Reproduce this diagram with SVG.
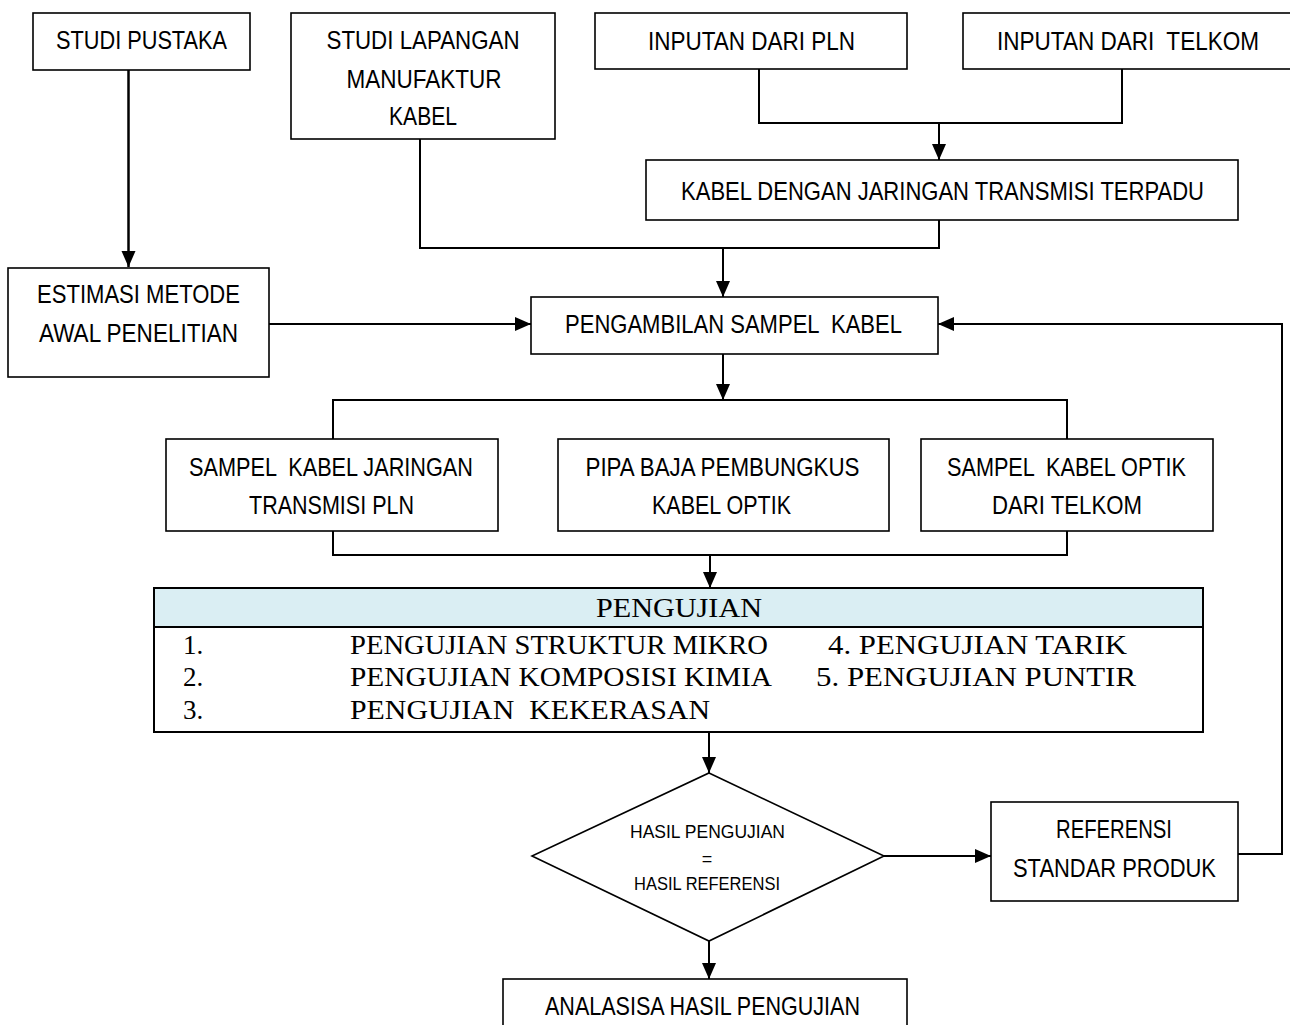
<svg xmlns="http://www.w3.org/2000/svg" width="1290" height="1025" viewBox="0 0 1290 1025">
<style>
.box{fill:#fff;stroke:#000;stroke-width:1.6}
.t{font-family:"Liberation Sans",Arial,sans-serif;font-size:25px;fill:#000;text-anchor:middle}
.ts{font-family:"Liberation Sans",Arial,sans-serif;font-size:18px;fill:#000;text-anchor:middle}
.tr{font-family:"Liberation Serif","Times New Roman",serif;font-size:27px;fill:#000}
.c{fill:none;stroke:#000;stroke-width:2}
.a{fill:none;stroke:#000;stroke-width:2;marker-end:url(#ah)}
</style>
<defs>
<marker id="ah" markerUnits="userSpaceOnUse" markerWidth="16" markerHeight="16" viewBox="0 0 16 16" refX="16" refY="8" orient="auto">
<path d="M0,1 L16,8 L0,15 Z" fill="#000"/>
</marker>
</defs>
<rect width="1290" height="1025" fill="#fff"/>
<g id="connectors">
<path class="a" d="M128.5,70 V267" style="stroke-width:2.5"/>
<path class="c" d="M420,139 V248 H939 V220"/>
<path class="a" d="M723,248 V297"/>
<path class="c" d="M759,69 V123 H1122 V69"/>
<path class="a" d="M939,123 V160"/>
<path class="a" d="M269,324 H531"/>
<path class="a" d="M723,354 V400"/>
<path class="c" d="M333,439 V400 H1067 V439"/>
<path class="c" d="M333,531 V555 H1067 V531"/>
<path class="a" d="M710,555 V588"/>
<path class="a" d="M709,732 V773"/>
<path class="a" d="M884,856 H991"/>
<path class="a" d="M1238,854 H1282 V324 H938"/>
<path class="a" d="M709,941 V979"/>
</g>
<g id="studi-pustaka">
<rect class="box" x="33" y="13" width="217" height="57"/>
<text class="t" x="141.5" y="49" textLength="171" lengthAdjust="spacingAndGlyphs">STUDI PUSTAKA</text>
</g>
<g id="studi-lapangan">
<rect class="box" x="291" y="13" width="264" height="126"/>
<text class="t" x="423" y="49" textLength="193" lengthAdjust="spacingAndGlyphs">STUDI LAPANGAN</text>
<text class="t" x="424" y="88" textLength="155" lengthAdjust="spacingAndGlyphs">MANUFAKTUR</text>
<text class="t" x="423" y="125" textLength="68" lengthAdjust="spacingAndGlyphs">KABEL</text>
</g>
<g id="inputan-pln">
<rect class="box" x="595" y="13" width="312" height="56"/>
<text class="t" x="751.5" y="50" textLength="207" lengthAdjust="spacingAndGlyphs">INPUTAN DARI PLN</text>
</g>
<g id="inputan-telkom">
<rect class="box" x="963" y="13" width="340" height="56"/>
<text class="t" x="1128" y="50" textLength="262" lengthAdjust="spacingAndGlyphs" xml:space="preserve">INPUTAN DARI  TELKOM</text>
</g>
<g id="kabel-terpadu">
<rect class="box" x="646" y="160" width="592" height="60"/>
<text class="t" x="942.5" y="200" textLength="523" lengthAdjust="spacingAndGlyphs">KABEL DENGAN JARINGAN TRANSMISI TERPADU</text>
</g>
<g id="estimasi">
<rect class="box" x="8" y="268" width="261" height="109"/>
<text class="t" x="138.5" y="303" textLength="203" lengthAdjust="spacingAndGlyphs">ESTIMASI METODE</text>
<text class="t" x="138.5" y="342" textLength="199" lengthAdjust="spacingAndGlyphs">AWAL PENELITIAN</text>
</g>
<g id="pengambilan">
<rect class="box" x="531" y="297" width="407" height="57"/>
<text class="t" x="733.5" y="333" textLength="337" lengthAdjust="spacingAndGlyphs" xml:space="preserve">PENGAMBILAN SAMPEL  KABEL</text>
</g>
<g id="sampel-pln">
<rect class="box" x="166" y="439" width="332" height="92"/>
<text class="t" x="331" y="476" textLength="284" lengthAdjust="spacingAndGlyphs" xml:space="preserve">SAMPEL  KABEL JARINGAN</text>
<text class="t" x="331.5" y="514" textLength="165" lengthAdjust="spacingAndGlyphs">TRANSMISI PLN</text>
</g>
<g id="pipa-baja">
<rect class="box" x="558" y="439" width="331" height="92"/>
<text class="t" x="722.5" y="476" textLength="274" lengthAdjust="spacingAndGlyphs">PIPA BAJA PEMBUNGKUS</text>
<text class="t" x="721.5" y="514" textLength="139" lengthAdjust="spacingAndGlyphs">KABEL OPTIK</text>
</g>
<g id="sampel-optik">
<rect class="box" x="921" y="439" width="292" height="92"/>
<text class="t" x="1066.5" y="476" textLength="239" lengthAdjust="spacingAndGlyphs" xml:space="preserve">SAMPEL  KABEL OPTIK</text>
<text class="t" x="1067" y="514" textLength="150" lengthAdjust="spacingAndGlyphs">DARI TELKOM</text>
</g>
<g id="pengujian">
<rect x="154" y="588" width="1049" height="144" fill="#fff" stroke="#000" stroke-width="2"/>
<rect x="154" y="588" width="1049" height="39" fill="#DAEEF3" stroke="#000" stroke-width="2"/>
<text class="tr" x="679" y="617" text-anchor="middle" textLength="166" lengthAdjust="spacingAndGlyphs">PENGUJIAN</text>
<text class="tr" x="183" y="654">1.</text>
<text class="tr" x="183" y="686">2.</text>
<text class="tr" x="183" y="719">3.</text>
<text class="tr" x="350" y="654" textLength="418" lengthAdjust="spacingAndGlyphs">PENGUJIAN STRUKTUR MIKRO</text>
<text class="tr" x="350" y="686" textLength="422" lengthAdjust="spacingAndGlyphs">PENGUJIAN KOMPOSISI KIMIA</text>
<text class="tr" x="350" y="719" textLength="360" lengthAdjust="spacingAndGlyphs" xml:space="preserve">PENGUJIAN  KEKERASAN</text>
<text class="tr" x="828" y="654" textLength="299" lengthAdjust="spacingAndGlyphs">4. PENGUJIAN TARIK</text>
<text class="tr" x="816" y="686" textLength="320" lengthAdjust="spacingAndGlyphs">5. PENGUJIAN PUNTIR</text>
</g>
<g id="hasil-decision">
<polygon points="709,773 884,856 709,941 532,856" fill="#fff" stroke="#000" stroke-width="1.6"/>
<text class="ts" x="707.5" y="838" textLength="155" lengthAdjust="spacingAndGlyphs">HASIL PENGUJIAN</text>
<text class="ts" x="707" y="865" font-size="14">=</text>
<text class="ts" x="707" y="890" textLength="146" lengthAdjust="spacingAndGlyphs">HASIL REFERENSI</text>
</g>
<g id="referensi">
<rect class="box" x="991" y="802" width="247" height="99"/>
<text class="t" x="1114" y="838" textLength="116" lengthAdjust="spacingAndGlyphs">REFERENSI</text>
<text class="t" x="1114.5" y="877" textLength="203" lengthAdjust="spacingAndGlyphs">STANDAR PRODUK</text>
</g>
<g id="analisa">
<rect class="box" x="503" y="979" width="404" height="60"/>
<text class="t" x="702.5" y="1015" textLength="315" lengthAdjust="spacingAndGlyphs">ANALASISA HASIL PENGUJIAN</text>
</g>
</svg>
